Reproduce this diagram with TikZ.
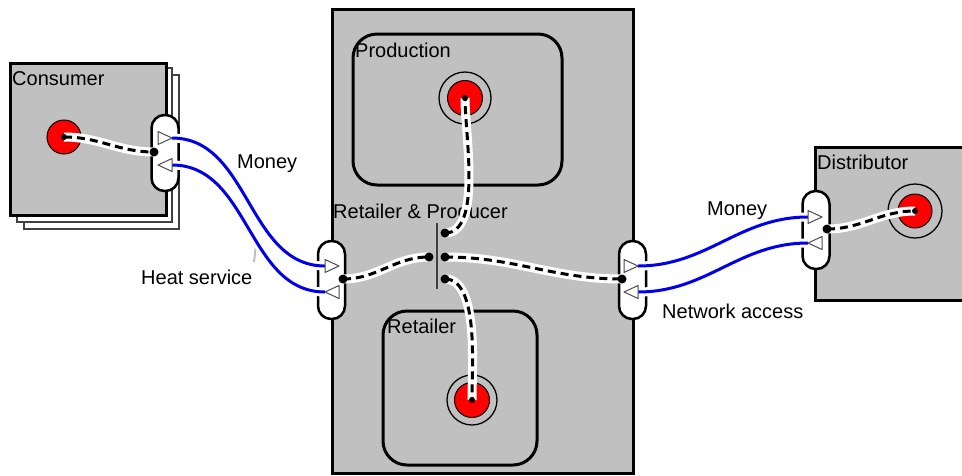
\documentclass[tikz,border=0pt]{standalone}
\usepackage{fontspec}
\setmainfont{Liberation Sans}
\definecolor{boxgray}{RGB}{192,192,192}
\definecolor{moneyblue}{RGB}{0,0,235}

\begin{document}
\begin{tikzpicture}[x=1pt,y=-1pt,
  font=\fontsize{20}{24}\selectfont,
  box/.style={draw=black, line width=3pt, fill=boxgray},
  layer/.style={draw=black!75, line width=2.5pt, fill=white},
  part/.style={draw=black, line width=3pt, rounded corners=24pt},
  lbl/.style={anchor=base west, inner sep=0pt},
  port/.style={draw=black, line width=2.5pt, fill=white, rounded corners=13pt,
    minimum width=27pt, minimum height=78pt, inner sep=0pt},
  ball/.style={circle, draw=black, line width=1pt, fill=red, minimum size=35pt, inner sep=0pt},
  ring/.style={circle, draw=black, line width=1.3pt, minimum size=52pt, inner sep=0pt},
  tri/.style={draw=black!70, line width=1pt, fill=white, line join=round},
  money/.style={draw=moneyblue, line width=3pt, preaction={draw=white, line width=9pt}},
  link/.style={draw=black, line width=3pt, dash pattern=on 8pt off 5pt,
    preaction={draw=white, solid, line width=9pt}},
  leader/.style={draw=black!25, line width=2pt}]
  \useasboundingbox (0,0) rectangle (962,475);

  % consumer
  \draw[layer] (24,75) rectangle (179,229);
  \draw[layer] (17,68) rectangle (172,222);
  \draw[box] (10,63) rectangle (166,215);
  \node[lbl] (conslbl) at (12,85) {Consumer};

  % retailer & producer
  \draw[box] (332,9) rectangle (633,473);
  \draw[part] (353,34) rectangle (562,185);
  \draw[part] (383,311) rectangle (537,465);
  \node[lbl] (prodlbl) at (355,57) {Production};
  \node[lbl] (retlbl) at (387,333) {Retailer};
  \node[lbl] (rplbl) at (333,218) {Retailer \& Producer};

  % distributor
  \draw[box] (815,147) rectangle (975,300);
  \node[lbl] (distlbl) at (817,169) {Distributor};

  % flow labels
  \node[lbl] (money1) at (237,168) {Money};
  \node[lbl] (heat) at (141,284) {Heat service};
  \node[lbl] (money2) at (707,215) {Money};
  \node[lbl] (netacc) at (662,318) {Network access};
  \draw[leader] (235,177) -- (236,175);
  \draw[leader] (256,245) -- (254,262);

  % balls
  \node[ball, minimum size=34pt] (cball) at (64,137) {};
  \node[ring] (pring) at (465,98) {};
  \node[ball] (pball) at (465,98) {};
  \node[ring, minimum size=50pt] (rring) at (472,400) {};
  \node[ball] (rball) at (472,400) {};
  \node[ring, minimum size=54pt] (dring) at (915,211) {};
  \node[ball, minimum size=34pt] (dball) at (915,211) {};

  % ports
  \node[port, minimum height=76pt] (cport) at (165,153) {};
  \node[port] (lport) at (331.5,280) {};
  \node[port] (rport) at (632.5,280) {};
  \node[port] (dport) at (816,230) {};
  \coordinate (cpd) at (154,152);
  \coordinate (lpd) at (343,279);
  \coordinate (rpd) at (622,279);
  \coordinate (dpd) at (827,229);

  % flows
  \coordinate (cm) at (172,138);
  \coordinate (ch) at (172,165);
  \coordinate (lm) at (325,266);
  \coordinate (lh) at (325,292);
  \coordinate (rm) at (638,266);
  \coordinate (rn) at (638,292);
  \coordinate (dm) at (808,217);
  \coordinate (dn) at (808,243);
  \draw[money] (cm) to[out=0,in=180] (lm);
  \draw[money] (ch) to[out=0,in=180] (lh);
  \draw[money] (rm) to[out=0,in=180] (dm);
  \draw[money] (rn) to[out=0,in=180] (dn);
  \draw[tri] (cm) -- ++(-14,-6.5) -- ++(0,13) -- cycle;
  \draw[tri] (ch) ++(0,-6.5) -- ++(0,13) -- ++(-14,-6.5) -- cycle;
  \draw[tri] (lm) ++(0,-6.5) -- ++(14,6.5) -- ++(-14,6.5) -- cycle;
  \draw[tri] (lh) -- ++(14,-6.5) -- ++(0,13) -- cycle;
  \draw[tri] (rm) -- ++(-14,-6.5) -- ++(0,13) -- cycle;
  \draw[tri] (rn) ++(0,-6.5) -- ++(0,13) -- ++(-14,-6.5) -- cycle;
  \draw[tri] (dm) ++(0,-6.5) -- ++(14,6.5) -- ++(-14,6.5) -- cycle;
  \draw[tri] (dn) -- ++(14,-6.5) -- ++(0,13) -- cycle;

  % junction
  \draw[draw=black!75, line width=2pt] (437,223) -- (437,289);
  \coordinate (jl) at (429,257);
  \coordinate (jt) at (445,233);
  \coordinate (jm) at (445,257);
  \coordinate (jb) at (445,279);

  % links
  \draw[link] (cball.center) to[out=0,in=180] (cpd);
  \draw[link] (lpd) to[out=0,in=180] (jl);
  \draw[link] (jm) to[out=0,in=180] (rpd);
  \draw[link] (jt) to[out=0,in=-90,looseness=0.7] (pball.center);
  \draw[link] (jb) to[out=0,in=90,looseness=0.7] (rball.center);
  \draw[link] (dpd) to[out=0,in=180] (dball.center);
  \foreach \p in {cball,pball,rball,dball}
    \fill (\p.center) circle (3);
  \foreach \p in {cpd,lpd,rpd,dpd,jl,jt,jm,jb}
    \fill (\p) circle (4.5);
\end{tikzpicture}
\end{document}
